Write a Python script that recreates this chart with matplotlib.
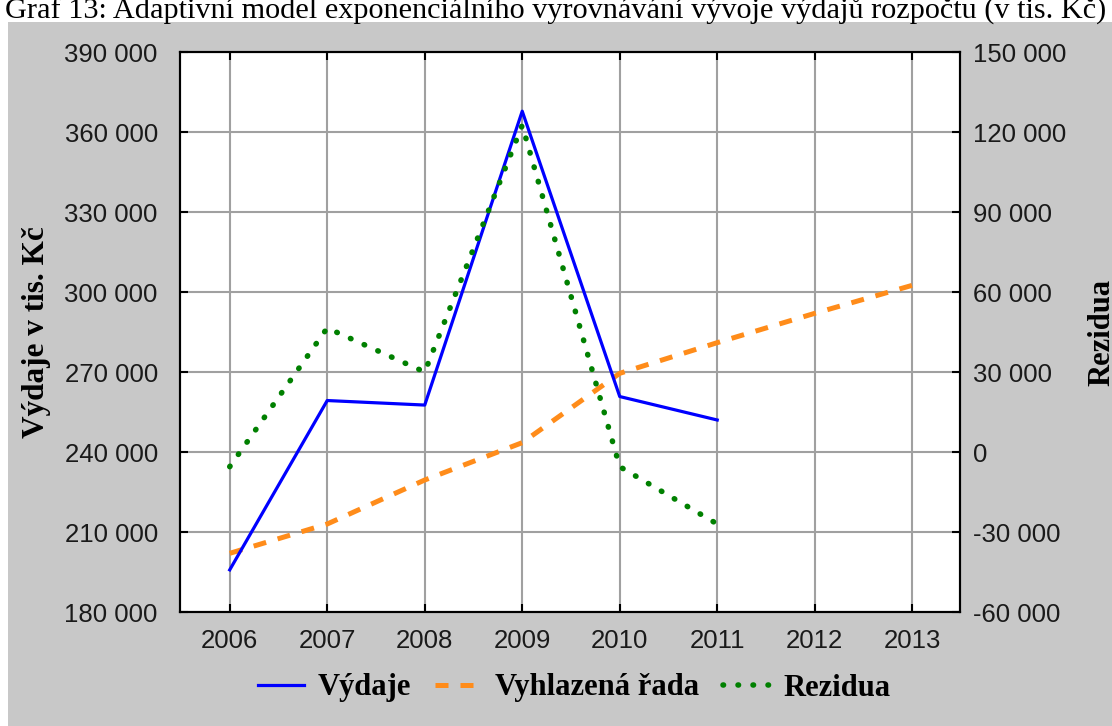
import matplotlib
matplotlib.use("Agg")
import matplotlib.pyplot as plt
from matplotlib.patches import Rectangle
from matplotlib.ticker import FuncFormatter

# data (tis. Kč)
years_vydaje = [2006, 2007, 2008, 2009, 2010, 2011]
vydaje = [195800, 259300, 257600, 367800, 260800, 252000]

years_vyhl = [2006, 2007, 2008, 2009, 2010, 2011, 2012, 2013]
vyhlazena = [202000, 213000, 229500, 243500, 269500, 281000, 292000, 302500]

years_rez = [2006, 2007, 2008, 2009, 2010, 2011]
rezidua = [-5500, 46500, 30000, 122500, -5500, -27000]

x_ticks = [2006, 2007, 2008, 2009, 2010, 2011, 2012, 2013]

TITLE = "Graf 13: Adaptivní model exponenciálního vyrovnávání vývoje výdajů rozpočtu (v tis. Kč)"
SERIF = ["Liberation Serif", "DejaVu Serif"]
TICKFONT = ["Liberation Sans", "DejaVu Sans"]


def thousands(v, _pos):
    return f"{int(round(v)):,}".replace(",", " ")


W, H = 1112, 726
fig = plt.figure(figsize=(W / 100, H / 100), dpi=100, facecolor="white")

# grey panel behind the chart (the title strip above stays white)
fig.patches.append(Rectangle((8 / W, 0), 1, (H - 22) / H, transform=fig.transFigure,
                             facecolor="#c8c8c8", edgecolor="none", zorder=-10))

ax = fig.add_axes([180 / W, (H - 612) / H, 780 / W, 560 / H])
ax.set_facecolor("white")
ax2 = ax.twinx()

ax.plot(years_vydaje, vydaje, color="#0000ff", lw=2.3, zorder=4, label="Výdaje")
ax.plot(years_vyhl, vyhlazena, color="#ff8c1a", lw=3.6, dashes=(2.6, 2.4),
        zorder=3, label="Vyhlazená řada")
ax2.plot(years_rez, rezidua, color="#008000", lw=4.0, dashes=(0.1, 2.6),
         dash_capstyle="round", zorder=3, label="Rezidua")

ax.set_xlim(2005.49, 2013.49)
ax.set_ylim(180000, 390000)
ax2.set_ylim(-60000, 150000)
ax.set_xticks(x_ticks)
ax.set_yticks(range(180000, 390001, 30000))
ax2.set_yticks(range(-60000, 150001, 30000))
ax.yaxis.set_major_formatter(FuncFormatter(thousands))
ax2.yaxis.set_major_formatter(FuncFormatter(thousands))

ax.grid(True, color="#a0a0a0", lw=1.5)
ax.set_axisbelow(True)

for a in (ax, ax2):
    for s in a.spines.values():
        s.set_linewidth(1.5)
        s.set_color("black")
ax.tick_params(axis="both", direction="in", length=6, width=1.5, top=True)
ax.tick_params(axis="y", pad=16)
ax.tick_params(axis="x", pad=12)
ax2.tick_params(axis="y", direction="in", length=6, width=1.5, pad=9)

for lab in ax.get_xticklabels() + ax.get_yticklabels() + ax2.get_yticklabels():
    lab.set_fontfamily(TICKFONT)
    lab.set_fontsize(18.5)
    lab.set_color("#1a1a1a")

ax.set_ylabel("Výdaje v tis. Kč", family=SERIF, fontweight="bold", fontsize=22.5)
ax.yaxis.set_label_coords(-0.166, 0.5)
ax2.set_ylabel("Rezidua", family=SERIF, fontweight="bold", fontsize=22)
ax2.yaxis.set_label_coords(1.164, 0.5)

fig.text(0.5, 1 - 19 / H, TITLE, ha="center", va="baseline", family=SERIF, fontsize=21.8)

h1, l1 = ax.get_legend_handles_labels()
h2, l2 = ax2.get_legend_handles_labels()
fig.legend(h1 + h2, l1 + l2, loc="center", bbox_to_anchor=(574 / W, 1 - 688 / H),
           ncol=3, frameon=False, handlelength=1.5, columnspacing=0.8, handletextpad=0.45,
           prop={"family": SERIF, "weight": "bold", "size": 22})

fig.savefig("out.png", dpi=100, facecolor=fig.get_facecolor())
